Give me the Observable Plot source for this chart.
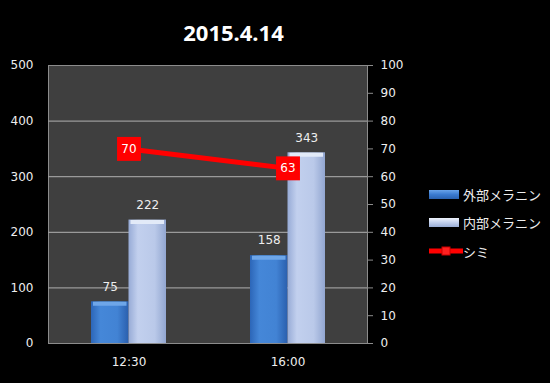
<!DOCTYPE html>
<html>
<head>
<meta charset="utf-8">
<script src="https://cdn.jsdelivr.net/npm/d3@7"></script>
<script src="https://cdn.jsdelivr.net/npm/@observablehq/plot@0.6"></script>
<style>
  html, body { margin: 0; padding: 0; background: #000; }
  #wrap { position: relative; width: 550px; height: 383px; background: #000; overflow: hidden;
          font-family: "DejaVu Sans", "Noto Sans CJK JP", sans-serif; color: #eee; }
  #title { position: absolute; left: 0; top: 16px; width: 467px; text-align: center;
           font-family: "Noto Sans", sans-serif;
           font-size: 22px; font-weight: bold; color: #fff; line-height: 32px; }
  #chart { position: absolute; left: 0; top: 0; }
  #legend { position: absolute; left: 429px; top: 180px; font-family: "Noto Sans CJK JP", sans-serif; font-size: 13px; color: #eee; }
  .item { display: flex; align-items: center; height: 28.5px; }
  .sw { width: 30px; height: 9px; margin-right: 4px; }
</style>
</head>
<body>
<div id="wrap">
  <div id="chart"></div>
  <div id="title">2015.4.14</div>
  <div id="legend"></div>
</div>
<script>
const title = "2015.4.14";
const times = ["12:30", "16:00"];
const seriesNames = ["外部メラニン", "内部メラニン", "シミ"];
const outer = [75, 158];   // 外部メラニン (left axis)
const inner = [222, 343];  // 内部メラニン (left axis)
const shimi = [70, 63];    // シミ (right axis, 0-100)
const leftTicks = [0, 100, 200, 300, 400, 500];
const rightTicks = [0, 10, 20, 30, 40, 50, 60, 70, 80, 90, 100];

const outerData = times.map((t, i) => ({time: t, v: outer[i]}));
const innerData = times.map((t, i) => ({time: t, v: inner[i]}));
const shimiData = times.map((t, i) => ({time: t, v: shimi[i]}));
const ratio = 500 / 100; // right axis -> left axis

const chart = Plot.plot({
  width: 550,
  height: 383,
  marginLeft: 48,
  marginRight: 183,
  marginTop: 65,
  marginBottom: 40,
  style: {background: "#000", color: "#eee", fontSize: "12px", fontFamily: "DejaVu Sans, Noto Sans CJK JP, sans-serif"},
  x: {domain: times, type: "band", paddingInner: 0.53, paddingOuter: 0.265, label: null},
  y: {domain: [0, 500], label: null},
  marks: [
    Plot.frame({fill: "#3f3f3f", stroke: "#8c8c8c"}),
    Plot.gridY(leftTicks.slice(1, -1), {stroke: "#9a9a9a", strokeOpacity: 1, strokeWidth: 1.2}),
    Plot.barY(outerData, {x: "time", y: "v", fill: "url(#gBlue)", insetRight: 37.5}),
    Plot.barY(innerData, {x: "time", y: "v", fill: "url(#gLight)", insetLeft: 37.5}),
    Plot.tickY(outerData, {x: "time", y: "v", stroke: "#6ea6e8", strokeWidth: 4, dy: 2, insetRight: 39.5, insetLeft: 2}),
    Plot.tickY(innerData, {x: "time", y: "v", stroke: "#e2eaf8", strokeWidth: 4, dy: 2, insetLeft: 39.5, insetRight: 2}),
    Plot.text(outerData, {x: "time", y: "v", text: d => String(d.v), dx: -18.75, dy: -15, fill: "#eee", fontSize: 12}),
    Plot.text(innerData, {x: "time", y: "v", text: d => String(d.v), dx: 18.75, dy: -15, fill: "#eee", fontSize: 12}),
    Plot.line(shimiData, {x: "time", y: d => d.v * ratio, stroke: "#ff0000", strokeWidth: 5}),
    Plot.dot(shimiData, {x: "time", y: d => d.v * ratio, symbol: "square", r: 13.5, fill: "#ff0000", stroke: "none"}),
    Plot.text(shimiData, {x: "time", y: d => d.v * ratio, text: d => String(d.v), fill: "#fff", fontSize: 12}),
    Plot.axisY({anchor: "left", ticks: leftTicks, tickSize: 0, tickPadding: 15, fill: "#eee", label: null}),
    Plot.axisY({anchor: "right", ticks: rightTicks.map(d => d * ratio), tickFormat: d => d / ratio, tickSize: 5, tickPadding: 8, stroke: "#8c8c8c", fill: "#eee", label: null}),
    Plot.axisX({anchor: "bottom", tickSize: 0, tickPadding: 14, fill: "#eee", label: null})
  ]
});

const defs = d3.select(chart).insert("defs", ":first-child");
function grad(id, stops) {
  const g = defs.append("linearGradient").attr("id", id).attr("x1", "0").attr("x2", "1").attr("y1", "0").attr("y2", "0");
  stops.forEach(([o, c]) => g.append("stop").attr("offset", o).attr("stop-color", c));
}
grad("gBlue", [[0, "#2c66b8"], [0.25, "#4587d8"], [0.7, "#4283d4"], [1, "#2a5fae"]]);
grad("gLight", [[0, "#97abd6"], [0.25, "#c2d0ee"], [0.7, "#bac9e9"], [1, "#92a6d0"]]);
document.getElementById("chart").appendChild(chart);

// legend
const legend = d3.select("#legend");
const sw = [
  "background: linear-gradient(#6aa4ea, #3b7bd0 50%, #2a62b0);",
  "background: linear-gradient(#eef3fc, #c3d0ec 50%, #9aaed6);",
  null
];
seriesNames.forEach((name, i) => {
  const it = legend.append("div").attr("class", "item");
  if (sw[i]) {
    it.append("div").attr("class", "sw").attr("style", sw[i]);
  } else {
    const s = it.append("svg").attr("width", 34).attr("height", 12);
    s.append("line").attr("x1", 0).attr("x2", 34).attr("y1", 6).attr("y2", 6).attr("stroke", "#ff0000").attr("stroke-width", 5);
    s.append("rect").attr("x", 13).attr("y", 2).attr("width", 8).attr("height", 8).attr("fill", "#ff2020").attr("stroke", "#c00");
  }
  it.append("span").text(name);
});
</script>
</body>
</html>
